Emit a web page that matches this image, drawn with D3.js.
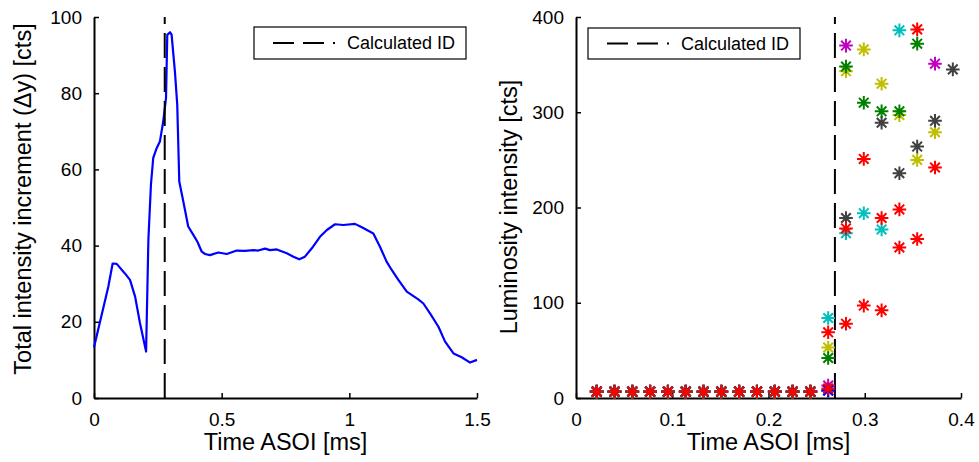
<!DOCTYPE html>
<html>
<head>
<meta charset="utf-8">
<script src="https://cdn.jsdelivr.net/npm/d3@7"></script>
<style>
  html, body { margin: 0; padding: 0; background: #fff; }
  svg { display: block; font-family: "Liberation Sans", Arial, Helvetica, sans-serif; }
</style>
</head>
<body>
<svg id="chart" width="979" height="462"></svg>
<script>
// ---------- Data ----------
// Left panel: total intensity increment vs time
const leftTime = [0, 0.056, 0.073, 0.089, 0.121, 0.141, 0.161, 0.18, 0.204, 0.213, 0.223, 0.232, 0.245, 0.258, 0.271, 0.282, 0.287, 0.298, 0.304, 0.317, 0.326, 0.334, 0.35, 0.369, 0.389, 0.405, 0.422, 0.435, 0.454, 0.487, 0.52, 0.559, 0.591, 0.624, 0.643, 0.67, 0.689, 0.716, 0.755, 0.781, 0.804, 0.826, 0.853, 0.885, 0.912, 0.944, 0.977, 1.022, 1.049, 1.094, 1.12, 1.146, 1.166, 1.192, 1.225, 1.27, 1.29, 1.316, 1.349, 1.375, 1.408, 1.44, 1.473, 1.5];
const leftIncrement = [13.3, 29.2, 35.3, 35.2, 32.7, 31, 26.6, 19.7, 12.2, 41.5, 56, 63, 65.5, 67.3, 72.5, 78.7, 95.3, 96, 95.3, 85.6, 77, 56.8, 51.5, 45, 42.8, 41, 38.4, 37.8, 37.5, 38.2, 37.8, 38.7, 38.6, 38.8, 38.7, 39.2, 38.8, 39, 38, 37.1, 36.4, 37.1, 39.3, 42.3, 44.1, 45.6, 45.4, 45.7, 44.8, 43.2, 39.7, 35.8, 33.6, 31, 27.9, 25.9, 24.8, 22.2, 18.7, 14.8, 11.7, 10.7, 9.3, 10];
const leftIdTime = 0.277;
const leftXTicks = [0, 0.5, 1, 1.5];
const leftYTicks = [0, 20, 40, 60, 80, 100];

// Right panel: luminosity intensity per tracked series (null = no marker)
const rightTime = [0.0215, 0.040, 0.0585, 0.077, 0.0955, 0.114, 0.1325, 0.151, 0.1695, 0.188, 0.2065, 0.225, 0.2435, 0.262, 0.2805, 0.299, 0.3175, 0.336, 0.3545, 0.373, 0.3915];
const s1Blue    = [7, 7, 7, 7, 7, 7, 7, 7, 7, 7, 7, 7, 7, 8, null, null, null, null, null, null, null];
const s2Green   = [6.5, 6.5, 6.5, 6.5, 6.5, 6.5, 6.5, 6.5, 6.5, 6.5, 6.5, 6.5, 6.5, null, null, null, null, null, null, null, null];
const s3Red     = [6.5, 6.5, 6.5, 6.5, 6.5, 6.5, 6.5, 6.5, 6.5, 6.5, 6.5, 6.5, 6.5, 69, 78, 97, 92, 158, 167, 242, null];
const s4Cyan    = [6.8, 6.8, 6.8, 6.8, 6.8, 6.8, 6.8, 6.8, 6.8, 6.8, 6.8, 6.8, 6.8, 84, 173, 194, 177, 386, null, null, null];
const s5Magenta = [6.5, 6.5, 6.5, 6.5, 6.5, 6.5, 6.5, 6.5, 6.5, 6.5, 6.5, 6.5, 6.5, 13, 370, null, null, null, null, 351, null];
const s6Yellow  = [7, 7, 7, 7, 7, 7, 7, 7, 7, 7, 7, 7, 7, 53, 343, 366, 330, 297, 250, 279, null];
const s7Gray    = [6.5, 6.5, 6.5, 6.5, 6.5, 6.5, 6.5, 6.5, 6.5, 6.5, 6.5, 6.5, 6.5, null, 189, null, 289, 236, 264, 291, 345];
const s8Blue    = [6.8, 6.8, 6.8, 6.8, 6.8, 6.8, 6.8, 6.8, 6.8, 6.8, 6.8, 6.8, 6.8, 8, null, null, null, null, null, null, null];
const s9Green   = [6.5, 6.5, 6.5, 6.5, 6.5, 6.5, 6.5, 6.5, 6.5, 6.5, 6.5, 6.5, 6.5, 42, 348, 310, 301, 301, 372, null, null];
const s10Red    = [6.6, 6.6, 6.6, 6.6, 6.6, 6.6, 6.6, 6.6, 6.6, 6.6, 6.6, 6.6, 6.6, 10, 178, 251, 189, 198, 387, null, null];
const rightSeries = [s1Blue, s2Green, s3Red, s4Cyan, s5Magenta, s6Yellow, s7Gray, s8Blue, s9Green, s10Red];
const seriesColors = ["#0000ff", "#008000", "#ff0000", "#00bfbf", "#bf00bf", "#bfbf00", "#404040", "#0000ff", "#008000", "#ff0000"];
const rightIdTime = 0.269;
const rightXTicks = [0, 0.1, 0.2, 0.3, 0.4];
const rightYTicks = [0, 100, 200, 300, 400];

const legendLabel = "Calculated ID";
const xTitle = "Time ASOI [ms]";
const leftYTitle = "Total intensity increment (Δy) [cts]";
const rightYTitle = "Luminosity intensity [cts]";

// ---------- Drawing ----------
const svg = d3.select("#chart");
const tickFont = 19, titleFont = 23.5, legendFont = 18;

function drawAxes(x, y, xTicks, yTicks, yTitle, yTitleX, yTitleY) {
  const g = svg.append("g");
  const ax = g.append("g")
    .attr("transform", `translate(0,${y.range()[0]})`)
    .call(d3.axisBottom(x).tickValues(xTicks).tickFormat(d3.format("~g"))
      .tickSizeInner(-5).tickSizeOuter(0).tickPadding(15));
  const ay = g.append("g")
    .attr("transform", `translate(${x.range()[0]},0)`)
    .call(d3.axisLeft(y).tickValues(yTicks).tickFormat(d3.format("~g"))
      .tickSizeInner(-5).tickSizeOuter(0).tickPadding(12));
  [ax, ay].forEach(a => {
    a.select(".domain").attr("stroke", "#000").attr("stroke-width", 2);
    a.selectAll(".tick line").attr("stroke", "#000").attr("stroke-width", 1.5);
    a.selectAll(".tick text").attr("fill", "#000").attr("font-size", tickFont)
      .attr("font-family", "Liberation Sans, Arial, sans-serif");
  });
  const xm = (x.range()[0] + x.range()[1]) / 2;
  g.append("text").attr("x", xm).attr("y", 450).attr("text-anchor", "middle")
    .attr("font-size", titleFont).text(xTitle);
  g.append("text").attr("transform", `translate(${yTitleX},${yTitleY}) rotate(-90)`)
    .attr("text-anchor", "middle").attr("font-size", titleFont).text(yTitle);
}

function drawIdLine(x, y, t) {
  svg.append("line")
    .attr("x1", x(t)).attr("x2", x(t))
    .attr("y1", y(y.domain()[0])).attr("y2", y(y.domain()[1]))
    .attr("stroke", "#000").attr("stroke-width", 2)
    .attr("stroke-dasharray", "25,9");
}

function drawLegend(lx, ly, w, h) {
  const g = svg.append("g");
  g.append("rect").attr("x", lx).attr("y", ly).attr("width", w).attr("height", h)
    .attr("fill", "#fff").attr("stroke", "#000").attr("stroke-width", 1.2);
  g.append("line").attr("x1", lx + 19).attr("x2", lx + 81)
    .attr("y1", ly + h / 2).attr("y2", ly + h / 2)
    .attr("stroke", "#000").attr("stroke-width", 2).attr("stroke-dasharray", "21,9");
  g.append("text").attr("x", lx + 93).attr("y", ly + h / 2).attr("dy", "0.36em")
    .attr("font-size", legendFont).text(legendLabel);
}

// Left panel
const xL = d3.scaleLinear([0, 1.5], [94, 477]);
const yL = d3.scaleLinear([0, 100], [398, 17]);
drawAxes(xL, yL, leftXTicks, leftYTicks, leftYTitle, 31, 199);
svg.append("path")
  .datum(leftTime.map((t, i) => [t, leftIncrement[i]]))
  .attr("fill", "none").attr("stroke", "#0000ff").attr("stroke-width", 2.2)
  .attr("stroke-linejoin", "round")
  .attr("d", d3.line().x(d => xL(d[0])).y(d => yL(d[1])));
drawIdLine(xL, yL, leftIdTime);
drawLegend(254, 27, 212, 32);

// Right panel
const xR = d3.scaleLinear([0, 0.4], [576, 961]);
const yR = d3.scaleLinear([0, 400], [398, 17]);
drawAxes(xR, yR, rightXTicks, rightYTicks, rightYTitle, 517, 207);
drawIdLine(xR, yR, rightIdTime);
const r = 6.8, dg = r * 0.7071;
const starPath = `M0,${-r}V${r}M${-r},0H${r}M${-dg},${-dg}L${dg},${dg}M${-dg},${dg}L${dg},${-dg}`;
rightSeries.forEach((vals, si) => {
  const pts = rightTime.map((t, i) => [t, vals[i]]).filter(d => d[1] !== null);
  svg.append("g").selectAll("path").data(pts).join("path")
    .attr("transform", d => `translate(${xR(d[0])},${yR(d[1])})`)
    .attr("d", starPath)
    .attr("fill", "none").attr("stroke", seriesColors[si]).attr("stroke-width", 2);
});
drawLegend(588, 28, 212, 31);
</script>
</body>
</html>
